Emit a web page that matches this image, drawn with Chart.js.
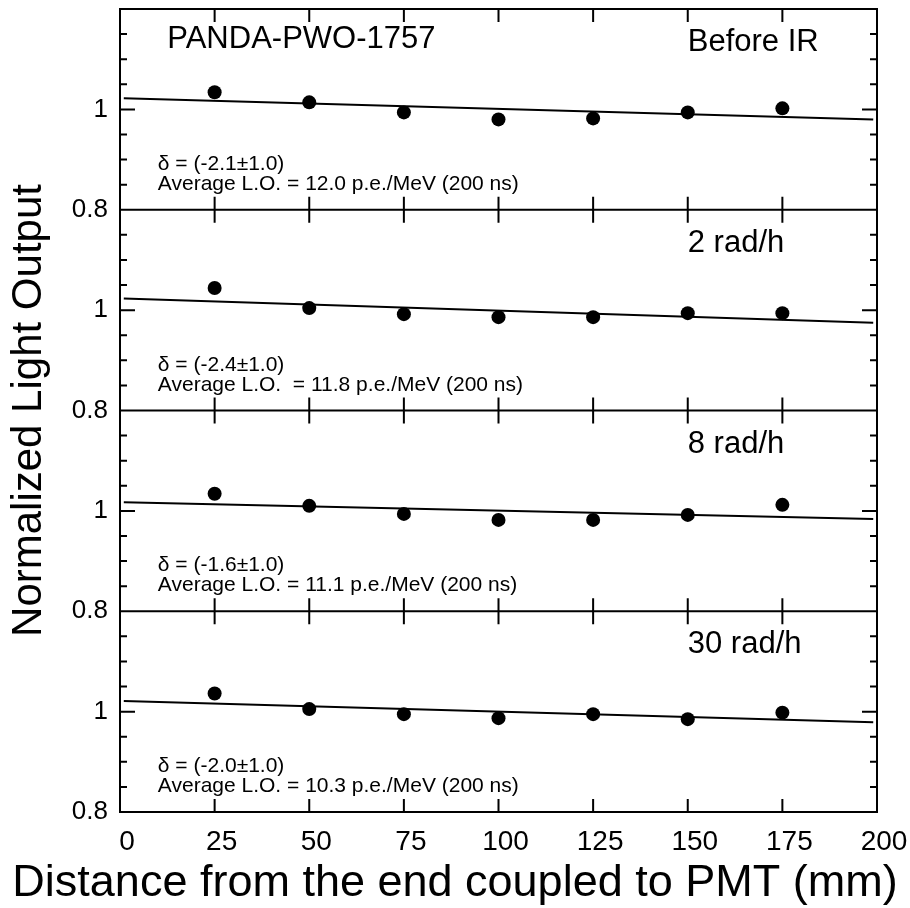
<!DOCTYPE html>
<html>
<head>
<meta charset="utf-8">
<script src="https://cdn.jsdelivr.net/npm/chart.js"></script>
<style>
    body { margin: 0; background: #fff; }
    canvas { display: block; }
</style>
</head>
<body>
<canvas id="grafico1" width="910" height="908"></canvas>
<script>
// distance from the end coupled to the PMT (mm)
const distances = [25, 50, 75, 100, 125, 150, 175];

// normalized light output, one array per panel (top to bottom)
const beforeIR = [1.034, 1.014, 0.994, 0.980, 0.982, 0.994, 1.002];
const rate2 = [1.044, 1.004, 0.992, 0.986, 0.986, 0.994, 0.994];
const rate8 = [1.034, 1.010, 0.994, 0.982, 0.982, 0.992, 1.012];
const rate30 = [1.036, 1.005, 0.995, 0.987, 0.995, 0.985, 0.998];

// straight line fit of each panel: start and end
const fitX = [1, 199];
const fitBeforeIR = [1.022, 0.980];
const fit2 = [1.023, 0.975];
const fit8 = [1.017, 0.984];
const fit30 = [1.021, 0.979];

// texts
const crystal = 'PANDA-PWO-1757';
const panelNames = ['Before IR', '2 rad/h', '8 rad/h', '30 rad/h'];
const deltas = ['δ = (-2.1±1.0)', 'δ = (-2.4±1.0)', 'δ = (-1.6±1.0)', 'δ = (-2.0±1.0)'];
const averages = [
    'Average L.O. = 12.0 p.e./MeV (200 ns)',
    'Average L.O.  = 11.8 p.e./MeV (200 ns)',
    'Average L.O. = 11.1 p.e./MeV (200 ns)',
    'Average L.O. = 10.3 p.e./MeV (200 ns)'
];

// tick labels
const yLabeled = [0.8, 1];
const xTickValues = [0, 25, 50, 75, 100, 125, 150, 175, 200];

const fonte = '"Liberation Sans", Arial, Helvetica, sans-serif';
Chart.defaults.font.family = fonte;
Chart.defaults.color = 'black';

const panelValues = [beforeIR, rate2, rate8, rate30];
const panelFits = [fitBeforeIR, fit2, fit8, fit30];

const datasets = [];
const scales = {
    x: {
        type: 'linear',
        position: 'bottom',
        min: 0,
        max: 200,
        afterBuildTicks: s => { s.ticks = xTickValues.map(v => ({ value: v })); },
        ticks: { font: { size: 28 }, padding: 13, labelOffset: 7, maxRotation: 0, autoSkip: false },
        grid: { display: false, drawTicks: false },
        border: { display: false },
        afterFit: s => {
            s.height = 49;
            s.paddingLeft = 0;
            s.paddingRight = 33; // room on the right of the frame
        }
    }
};

for (let i = 0; i < 4; i++) {
    // dots
    datasets.push({
        type: 'scatter',
        data: distances.map((d, k) => ({ x: d, y: panelValues[i][k] })),
        yAxisID: 'y' + i,
        pointRadius: 7,
        pointBackgroundColor: 'black',
        pointBorderWidth: 0
    });
    // fit line
    datasets.push({
        type: 'line',
        data: fitX.map((d, k) => ({ x: d, y: panelFits[i][k] })),
        yAxisID: 'y' + i,
        borderColor: 'black',
        borderWidth: 2,
        pointRadius: 0,
        fill: false
    });
    scales['y' + i] = {
        type: 'linear',
        position: 'left',
        stack: 'panels',
        stackWeight: 1,
        weight: 4 - i,
        min: 0.8,
        max: 1.2,
        ticks: {
            stepSize: 0.05,
            autoSkip: false,
            padding: 12,
            font: { size: 26 },
            callback: v => yLabeled.some(t => Math.abs(t - v) < 1e-6) ? String(+v.toFixed(1)) : ''
        },
        grid: { display: false, drawTicks: false },
        border: { display: false },
        afterFit: s => {
            s.width = 70;
            s.paddingTop = 0;
            s.paddingBottom = 0;
        }
    };
}

// frame, inward ticks and the texts inside the panels
const moldura = {
    id: 'moldura',
    afterDraw(chart) {
        const ctx = chart.ctx;
        const area = chart.chartArea;
        const x = chart.scales.x;
        ctx.save();
        ctx.strokeStyle = 'black';
        ctx.fillStyle = 'black';
        ctx.lineWidth = 2;
        ctx.beginPath();
        for (let i = 0; i < 4; i++) {
            const y = chart.scales['y' + i];
            // divider between panels
            ctx.moveTo(area.left, y.bottom);
            ctx.lineTo(area.right, y.bottom);
            // y ticks on both sides
            for (let k = 1; k < 8; k++) {
                const py = y.getPixelForValue(0.8 + k * 0.05);
                const len = k == 4 ? 15 : 7;
                ctx.moveTo(area.left, py);
                ctx.lineTo(area.left + len, py);
                ctx.moveTo(area.right - len, py);
                ctx.lineTo(area.right, py);
            }
            // x ticks at top and bottom of every panel
            for (let k = 1; k < xTickValues.length - 1; k++) {
                const px = x.getPixelForValue(xTickValues[k]);
                ctx.moveTo(px, y.top);
                ctx.lineTo(px, y.top + 13);
                ctx.moveTo(px, y.bottom);
                ctx.lineTo(px, y.bottom - 13);
            }
        }
        ctx.stroke();
        ctx.strokeRect(area.left, area.top, area.right - area.left, area.bottom - area.top);

        ctx.textBaseline = 'middle';
        ctx.textAlign = 'left';
        for (let i = 0; i < 4; i++) {
            const y = chart.scales['y' + i];
            ctx.font = '31px ' + fonte;
            ctx.fillText(panelNames[i], x.getPixelForValue(150), y.getPixelForValue(1.133));
            if (i == 0) {
                ctx.fillText(crystal, x.getPixelForValue(12.5), y.getPixelForValue(1.139));
            }
            ctx.font = '21px ' + fonte;
            ctx.fillText(deltas[i], x.getPixelForValue(10), y.getPixelForValue(0.891));
            ctx.fillText(averages[i], x.getPixelForValue(10), y.getPixelForValue(0.851));
        }
        ctx.restore();
    }
};

const grafico1 = new Chart(document.getElementById('grafico1'), {
    type: 'scatter',
    data: { datasets: datasets },
    options: {
        responsive: false,
        devicePixelRatio: 1,
        animation: false,
        layout: { padding: { top: 9, right: 0, bottom: 0, left: 0 } },
        scales: scales,
        plugins: {
            legend: { display: false },
            tooltip: { enabled: false },
            title: {
                display: true,
                text: 'Distance from the end coupled to PMT (mm)',
                position: 'bottom',
                font: { size: 45, weight: 'normal', lineHeight: 1 },
                padding: { top: 0, bottom: 2 }
            },
            subtitle: {
                display: true,
                text: 'Normalized Light Output',
                position: 'left',
                fullSize: false,
                font: { size: 42, weight: 'normal', lineHeight: 1 },
                padding: { top: 8, bottom: 0 }
            }
        }
    },
    plugins: [moldura]
});
</script>
</body>
</html>
